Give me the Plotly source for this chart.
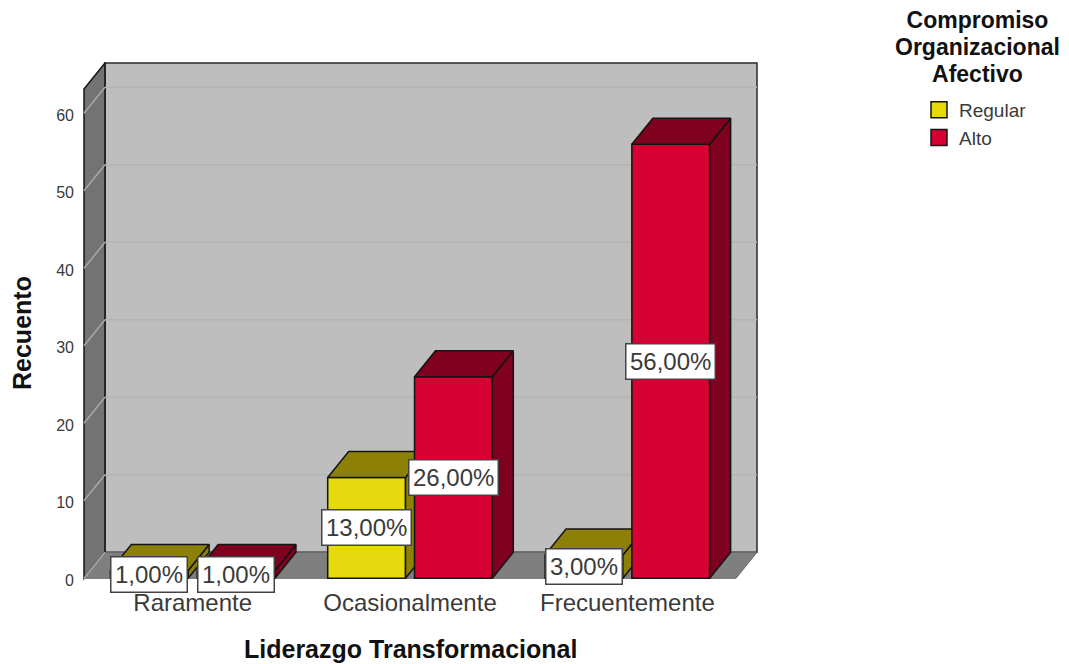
# -*- coding: utf-8 -*-
import plotly.graph_objects as go

categories = ['Raramente', 'Ocasionalmente', 'Frecuentemente']
regular = [1, 13, 3]
alto = [1, 26, 56]
y_ticks = [0, 10, 20, 30, 40, 50, 60]

# box geometry (axis units), the depth is what gives the fake 3D look
bar_w = 0.358
gap = 0.0207
dx = 21 / 217.7
dy = 26 / 7.75
y_top = (578.3 - 89) / 7.75
x_left = -0.5
x_right = 2.5

edge = '#141414'
colors = {'Regular': ('#E6D90D', '#8C8106'), 'Alto': ('#D60032', '#7F001F')}


def poly(xs, ys, color, xaxis='x', yaxis='y'):
    return go.Scatter(x=xs + xs[:1], y=ys + ys[:1], mode='lines', fill='toself',
                      fillcolor=color, line=dict(color=edge, width=1.5),
                      xaxis=xaxis, yaxis=yaxis, showlegend=False, hoverinfo='skip',
                      cliponaxis=False)


def add_series(fig, name, values, offset, xaxis, yaxis):
    face, dark = colors[name]
    xpos = list(range(len(values)))
    fig.add_trace(go.Bar(x=xpos, y=values, width=bar_w, offset=offset, name=name,
                         marker=dict(color=face, line=dict(color=edge, width=1.5)),
                         xaxis=xaxis, yaxis=yaxis, showlegend=False, cliponaxis=False))
    for i, v in zip(xpos, values):
        x0 = i + offset
        x1 = x0 + bar_w
        fig.add_trace(poly([x1, x1 + dx, x1 + dx, x1], [0, dy, v + dy, v], dark, xaxis, yaxis))
        fig.add_trace(poly([x0, x1, x1 + dx, x0 + dx], [v, v, v + dy, v + dy], dark, xaxis, yaxis))


fig = go.Figure()
add_series(fig, 'Regular', regular, -gap - bar_w, 'x', 'y')
# second pair of axes on top so the red bars hide the sides of the yellow ones
add_series(fig, 'Alto', alto, gap, 'x2', 'y2')

# legend entries
for name in ['Regular', 'Alto']:
    fig.add_trace(go.Scatter(x=[None], y=[None], mode='markers', name=name,
                             marker=dict(symbol='square', size=18, color=colors[name][0],
                                         line=dict(color=edge, width=1.5))))

# walls
shapes = [
    dict(type='rect', x0=x_left + dx, x1=x_right + dx, y0=dy, y1=y_top + dy,
         fillcolor='#BEBEBE', line=dict(color='#2a2a2a', width=1.5), layer='below'),
    dict(type='path', layer='below', fillcolor='#737373', line=dict(color='#141414', width=1.5),
         path=f'M{x_left},0 L{x_left + dx},{dy} L{x_left + dx},{y_top + dy} L{x_left},{y_top} Z'),
    dict(type='path', layer='below', fillcolor='#7F7F7F', line=dict(color='#6a6a6a', width=1),
         path=f'M{x_left},0 L{x_right},0 L{x_right + dx},{dy} L{x_left + dx},{dy} Z'),
]
for t in y_ticks:
    shapes.append(dict(type='line', layer='below', x0=x_left, x1=x_left + dx, y0=t, y1=t + dy,
                       line=dict(color='#A8A8A8', width=1.5)))
    if t > 0:
        shapes.append(dict(type='line', layer='below', x0=x_left + dx, x1=x_right + dx,
                           y0=t + dy, y1=t + dy, line=dict(color='#B4B4B4', width=1.5)))

# value labels, centred on each bar
annotations = []
for values, offset in [(regular, -gap - bar_w), (alto, gap)]:
    for i, v in enumerate(values):
        annotations.append(dict(x=i + offset + bar_w / 2, y=v / 2, xref='x', yref='y',
                                text=f'{v:.2f}%'.replace('.', ','), showarrow=False,
                                font=dict(size=24, color='#3a3a3a'), bgcolor='white',
                                bordercolor='#444444', borderwidth=1.5, borderpad=3.5))


def px(x):
    return (x - 82) / (760 - 82)


def py(y):
    return (581 - y) / (581 - 62)


def title_note(text, x, y, angle=0, size=25, base=25):
    # small base font with a bigger span: keeps the tight line spacing of the original
    return dict(x=px(x), y=py(y), xref='paper', yref='paper',
                text=f'<span style="font-size:{size}px"><b>{text}</b></span>',
                xanchor='center', yanchor='middle', textangle=angle, showarrow=False,
                font=dict(size=base, color='#111111'))


annotations.append(title_note('Compromiso<br>Organizacional<br>Afectivo', 977, 47, size=23, base=20.6))
annotations.append(title_note('Liderazgo Transformacional', 410.5, 649))
annotations.append(title_note('Recuento', 22, 333, -90))

x_range = [x_left - 2 / 217.7, x_right + dx + 3 / 217.7]
y_range = [-2.7 / 7.75, (578.3 - 62) / 7.75]

fig.update_layout(
    width=1069, height=664, autosize=False,
    margin=dict(l=82, r=309, t=62, b=83),
    paper_bgcolor='white', plot_bgcolor='white',
    font=dict(family='Liberation Sans', color='#3a3a3a'),
    barmode='overlay',
    shapes=shapes, annotations=annotations,
    xaxis=dict(range=x_range, tickvals=[0, 1, 2], ticktext=categories, showgrid=False,
               zeroline=False, showline=False, ticks='', tickfont=dict(size=24),
               ticklabelstandoff=5),
    yaxis=dict(range=y_range, tickvals=y_ticks, showgrid=False, zeroline=False, showline=False,
               ticks='', tickfont=dict(size=16), ticklabelstandoff=7, ticklabelshift=2),
    xaxis2=dict(range=x_range, overlaying='x', visible=False),
    yaxis2=dict(range=y_range, overlaying='y', visible=False),
    legend=dict(x=px(919), y=py(91), xanchor='left', yanchor='top', itemsizing='trace',
                font=dict(size=19, color='#3a3a3a'), bgcolor='rgba(0,0,0,0)'),
)

fig.write_html('out.html', config=dict(displayModeBar=False),
               post_script="document.body.style.margin='0'")
